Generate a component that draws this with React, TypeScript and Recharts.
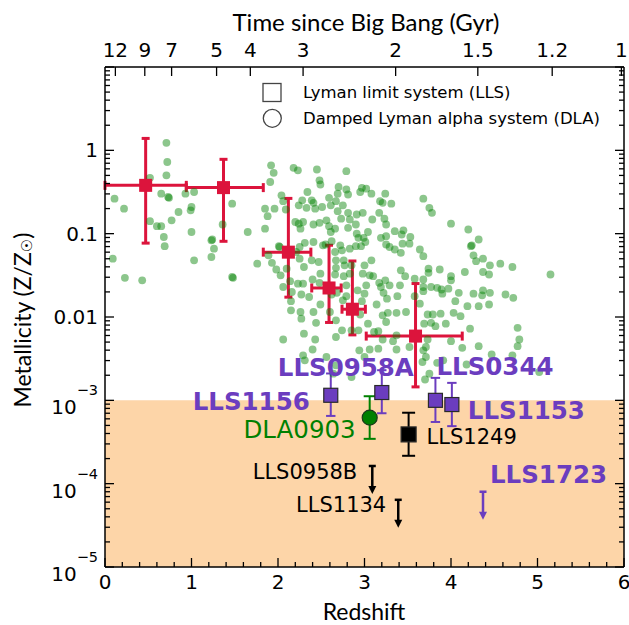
import React from 'react';
import {
  ScatterChart,
  Scatter,
  XAxis,
  YAxis,
  ErrorBar,
  ReferenceArea,
  Customized,
} from 'recharts';

// ---------------------------------------------------------------------------
// Data
// ---------------------------------------------------------------------------

// Field absorbers: [redshift, log10(Z/Zsun)]
const fieldSample: [number, number][] = [
  [0.11, -0.58], [0.22, -0.70], [0.71, 0.09], [0.72, -0.14], [0.71, -0.30], [0.52, -0.33],
  [0.65, -0.52], [0.73, -0.56], [0.74, -0.57], [0.93, -0.52], [1.03, -0.50], [1.00, -0.68],
  [0.99, -0.72], [0.85, -0.74], [0.77, -0.84], [0.52, -0.85], [0.60, -0.91], [0.65, -0.91],
  [0.68, -1.04], [0.69, -1.15], [1.00, -0.98], [1.36, -0.89], [1.47, -0.64], [1.65, -0.98],
  [1.23, -1.08], [1.24, -1.07], [1.26, -1.18], [1.23, -1.28], [1.03, -1.32], [0.09, -1.30],
  [0.23, -1.53], [0.43, -1.56], [1.47, -1.52], [1.48, -1.53], [1.76, -1.36], [1.89, -1.26],
  [1.93, -1.35], [1.98, -1.43], [1.85, -0.94], [1.85, -0.70], [1.88, -0.79], [1.96, -0.70],
  [1.91, -0.38], [1.95, -0.27], [1.92, -0.18], [2.01, -1.15], [2.02, -1.16],
  [2.18, -0.21], [2.23, -0.24], [2.45, -0.23], [2.79, -0.25], [2.48, -0.36], [2.49, -0.41],
  [2.34, -0.50], [2.70, -0.44], [2.79, -0.47], [2.69, -0.52], [2.04, -0.54], [2.06, -0.61],
  [2.39, -0.60], [2.41, -0.63], [2.59, -0.57], [2.81, -0.53], [2.97, -0.45], [3.02, -0.46],
  [2.95, -0.50], [3.08, -0.52], [3.24, -0.52], [3.18, -0.61], [3.21, -0.63], [3.31, -0.64],
  [2.09, -0.71], [2.24, -0.66], [2.28, -0.60], [2.33, -0.69], [2.43, -0.70], [2.51, -0.68],
  [2.67, -0.61], [2.61, -0.66], [2.75, -0.66], [2.69, -0.73], [2.81, -0.75], [2.91, -0.77],
  [2.98, -0.75], [3.17, -0.75], [3.23, -0.82], [3.09, -0.83], [3.25, -0.89],
  [2.20, -0.86], [2.24, -0.88], [2.29, -0.86], [2.26, -0.94], [2.41, -0.89], [2.48, -0.87],
  [2.56, -0.84], [2.59, -0.91], [2.66, -0.94], [2.61, -0.98], [2.73, -0.82], [2.83, -0.83],
  [2.81, -0.93], [2.90, -0.89], [2.91, -1.00], [2.93, -1.05], [2.99, -1.05], [3.04, -0.98],
  [3.01, -1.10], [3.19, -1.05], [3.25, -1.03], [3.35, -0.97], [3.43, -1.01], [3.25, -1.13],
  [3.29, -1.16], [3.35, -1.19], [3.42, -1.23],
  [2.52, -1.14], [2.55, -1.13], [2.62, -1.09], [2.72, -1.14], [2.66, -1.22], [2.74, -1.20],
  [2.83, -1.18], [2.90, -1.15], [2.96, -1.15], [2.41, -1.10], [2.31, -1.11], [2.25, -1.16],
  [2.21, -1.22],
  [2.03, -1.50], [2.10, -1.42], [2.25, -1.30], [2.30, -1.40], [2.39, -1.32], [2.47, -1.34],
  [2.67, -1.32], [2.67, -1.41], [2.76, -1.32], [2.77, -1.38], [2.85, -1.38], [3.00, -1.38],
  [3.08, -1.32], [2.98, -1.48], [3.06, -1.50], [3.10, -1.51], [2.83, -1.48], [2.76, -1.51],
  [2.66, -1.49], [2.49, -1.48], [2.40, -1.55], [2.48, -1.59], [2.29, -1.60], [2.23, -1.60],
  [2.14, -1.57], [2.06, -1.64],
  [2.15, -1.81], [2.16, -1.70], [2.27, -1.73], [2.36, -1.76], [2.49, -1.85], [2.62, -1.73],
  [2.68, -1.71], [2.79, -1.62], [2.79, -1.75], [2.75, -1.80], [2.92, -1.68], [3.02, -1.62],
  [3.00, -1.72], [3.19, -1.64], [3.22, -1.71], [3.29, -1.62], [3.38, -1.75], [3.26, -1.78],
  [3.17, -1.59], [3.24, -1.56], [3.77, -1.64], [3.68, -1.69],
  [3.94, -2.08], [3.48, -1.94], [3.37, -1.95], [3.27, -1.95], [3.21, -1.98], [3.14, -1.85],
  [3.16, -2.17], [3.11, -2.18], [3.33, -2.29], [3.21, -2.27], [3.25, -2.06], [3.04, -2.08],
  [2.97, -1.81], [2.95, -1.97], [2.67, -2.04], [2.60, -1.94], [2.41, -1.94], [2.44, -2.07],
  [2.27, -2.02], [2.26, -1.94], [2.15, -1.92], [2.06, -2.27], [2.30, -2.20], [2.43, -2.27],
  [2.40, -2.39], [2.67, -2.24], [2.74, -2.16], [2.85, -2.16], [2.93, -2.16], [3.37, -2.22],
  [3.37, -2.39], [3.06, -2.39], [3.16, -2.38],
  [3.68, -0.58], [3.75, -0.69], [3.78, -0.75], [4.00, -0.88], [4.20, -0.95], [4.32, -1.07],
  [4.24, -1.14], [4.23, -1.15], [4.37, -1.30], [4.29, -1.33], [4.26, -1.26], [4.45, -1.38],
  [4.57, -1.36], [4.71, -1.40], [5.15, -1.49], [4.44, -1.49], [4.37, -1.46], [4.16, -1.46],
  [4.00, -1.51], [4.00, -1.56], [3.87, -1.43], [3.74, -1.42], [3.74, -1.47], [3.68, -1.55],
  [3.64, -1.19], [3.68, -1.27], [3.53, -1.04], [3.52, -1.12], [3.45, -0.96], [3.44, -1.12],
  [3.42, -1.44], [3.47, -1.51], [3.58, -1.54], [3.41, -1.62], [3.68, -1.64], [3.84, -1.65],
  [3.89, -1.67], [3.90, -1.72], [3.97, -1.66], [4.09, -1.71], [4.26, -1.72], [4.36, -1.74],
  [4.37, -1.68], [4.45, -1.71], [4.63, -1.73], [4.72, -1.77], [4.05, -1.81], [4.19, -1.87],
  [4.32, -1.87], [4.44, -1.85], [3.88, -1.96], [3.73, -1.97], [3.79, -1.97], [4.03, -1.95],
  [4.11, -1.99], [3.58, -1.75], [3.64, -1.84], [3.69, -2.08], [3.77, -2.07], [3.82, -2.11],
  [4.22, -2.14], [4.77, -2.13], [4.79, -2.27], [4.77, -2.35], [4.13, -2.37], [4.32, -2.35],
  [4.47, -2.45], [4.71, -2.46], [3.73, -2.27], [3.71, -2.36], [3.68, -2.40], [3.71, -2.48],
  [3.67, -2.54], [3.84, -2.55], [4.18, -2.57], [4.00, -2.29],
  [2.29, -2.46], [2.31, -2.52], [2.56, -2.48], [2.67, -2.58], [2.64, -2.68], [2.85, -2.72],
  [3.00, -2.48], [2.94, -2.40], [3.52, -2.36], [3.70, -2.75], [3.91, -2.52], [3.75, -2.68],
  [5.02, -2.66],
];

// Binned medians of the field sample
const binCenter = [0.47, 1.37, 2.12, 2.59, 2.86, 3.59];
const binLowEdge = [0.0, 0.94, 1.83, 2.39, 2.74, 3.02];
const binHighEdge = [0.94, 1.83, 2.38, 2.73, 3.01, 4.13];
const binMedian = [0.38, 0.357, 0.06, 0.0223, 0.0124, 0.0059];
const binP16 = [0.077, 0.081, 0.0173, 0.0086, 0.0061, 0.00145];
const binP84 = [1.39, 0.78, 0.265, 0.0726, 0.047, 0.0252];

// Metal-poor systems with measurements
const systemNames = ['LLS1156', 'LLS0958A', 'LLS0344', 'LLS1153', 'DLA0903', 'LLS1249'];
const systemRedshift = [2.61, 3.2, 3.82, 4.01, 3.06, 3.51];
const systemMetal = [1.15e-3, 1.24e-3, 1.0e-3, 8.9e-4, 6.2e-4, 3.9e-4];
const systemLow = [6.5e-4, 7.0e-4, 5.5e-4, 4.9e-4, 3.45e-4, 2.16e-4];
const systemHigh = [2.1e-3, 2.3e-3, 1.86e-3, 1.62e-3, 1.12e-3, 7.1e-4];

// Systems with upper limits only
const limitNames = ['LLS0958B', 'LLS1134', 'LLS1723'];
const limitRedshift = [3.09, 3.39, 4.37];
const limitMetal = [1.63e-4, 6.4e-5, 8.0e-5];

// Age of the universe (Gyr) on the top axis and the redshift where each falls
const ageTickLabels = ['12', '9', '7', '5', '4', '3', '2', '1.5', '1.2', '1'];
const ageTickRedshift = [0.12, 0.46, 0.77, 1.29, 1.68, 2.29, 3.36, 4.31, 5.17, 5.97];

const redshiftMajorTicks = [0, 1, 2, 3, 4, 5, 6];
const metalDecades = [-5, -4, -3, -2, -1, 0, 1];

// ---------------------------------------------------------------------------
// Layout and style
// ---------------------------------------------------------------------------

const W = 629;
const H = 625;
const Y_AXIS_W = 105;
const RIGHT_AXIS_W = 5;
const TOP_AXIS_H = 67;
const BOTTOM_AXIS_H = 58;
const PLOT_LEFT = Y_AXIS_W;
const PLOT_RIGHT = W - RIGHT_AXIS_W;
const PLOT_TOP = TOP_AXIS_H;
const PLOT_BOTTOM = H - BOTTOM_AXIS_H;

const TICK_FONT = 'DejaVu Sans';
const TITLE_FONT = 'Lato';
const CRIMSON = '#dc143c';
const PURPLE = '#6b3dbf';
const DLA_GREEN = '#008000';
const FIELD_GREEN = '#008000';
const SHADE = '#fdd5a8';

type LabelStyle = {
  dx: number;
  dy: number;
  anchor: 'start' | 'middle' | 'end';
  size: number;
  bold: boolean;
  color: string;
};

const labelStyles: Record<string, LabelStyle> = {
  LLS1156: { dx: -21, dy: 6, anchor: 'end', size: 24.5, bold: true, color: PURPLE },
  LLS0958A: { dx: -36, dy: -25, anchor: 'middle', size: 24.5, bold: true, color: PURPLE },
  LLS0344: { dx: 1, dy: -34, anchor: 'start', size: 24.5, bold: true, color: PURPLE },
  LLS1153: { dx: 16, dy: 6, anchor: 'start', size: 24.5, bold: true, color: PURPLE },
  DLA0903: { dx: -14, dy: 12, anchor: 'end', size: 24.5, bold: false, color: DLA_GREEN },
  LLS1249: { dx: 18, dy: 3, anchor: 'start', size: 21, bold: false, color: '#000' },
  LLS0958B: { dx: -15, dy: 6, anchor: 'end', size: 21, bold: false, color: '#000' },
  LLS1134: { dx: -12, dy: 5, anchor: 'end', size: 21, bold: false, color: '#000' },
  LLS1723: { dx: 7, dy: -17, anchor: 'start', size: 24.5, bold: true, color: PURPLE },
};

// ---------------------------------------------------------------------------
// Derived tables
// ---------------------------------------------------------------------------

const fieldPoints = fieldSample.map(([z, logZ]) => ({ z, met: Math.pow(10, logZ) }));

const binPoints = binCenter.map((z, i) => ({
  z,
  met: binMedian[i],
  zErr: [z - binLowEdge[i], binHighEdge[i] - z],
  metErr: [binMedian[i] - binP16[i], binP84[i] - binMedian[i]],
}));

const systemPoints = systemNames.map((name, i) => ({
  name,
  z: systemRedshift[i],
  met: systemMetal[i],
  metErr: [systemMetal[i] - systemLow[i], systemHigh[i] - systemMetal[i]],
}));
const purpleSystems = systemPoints.filter((d) => d.name.startsWith('LLS') && d.name !== 'LLS1249');
const dlaSystems = systemPoints.filter((d) => d.name.startsWith('DLA'));
const blackSystems = systemPoints.filter((d) => d.name === 'LLS1249');

const limitPoints = limitNames.map((name, i) => ({ name, z: limitRedshift[i], met: limitMetal[i] }));
const blackLimits = limitPoints.filter((d) => d.name !== 'LLS1723');
const purpleLimits = limitPoints.filter((d) => d.name === 'LLS1723');

const redshiftTicks: number[] = [];
for (let k = 0; k <= 30; k++) redshiftTicks.push(Math.round(k * 2) / 10);

const metalTicks: number[] = [];
metalDecades.forEach((d) => {
  metalTicks.push(Math.pow(10, d));
  if (d < 1) for (let m = 2; m <= 9; m++) metalTicks.push(m * Math.pow(10, d));
});

// ---------------------------------------------------------------------------
// Axis ticks (matplotlib style, pointing inwards)
// ---------------------------------------------------------------------------

const isDecade = (v: number) => Math.abs(Math.log10(v) - Math.round(Math.log10(v))) < 1e-6;

const metalLabel = (v: number) => {
  const e = Math.round(Math.log10(v));
  if (e === 0) return <tspan>1</tspan>;
  if (e === -1) return <tspan>0.1</tspan>;
  if (e === -2) return <tspan>0.01</tspan>;
  return (
    <>
      <tspan dy={7}>10</tspan>
      <tspan dy={-17} fontSize={14.5}>{`\u2212${Math.abs(e)}`}</tspan>
    </>
  );
};

const LeftTick = (props: any) => {
  const { y, payload } = props;
  const v = payload.value as number;
  const major = isDecade(v);
  const e = Math.round(Math.log10(v));
  return (
    <g>
      <line x1={PLOT_LEFT} x2={PLOT_LEFT + (major ? 9 : 5)} y1={y} y2={y} stroke="#000" strokeWidth={1.3} />
      {major && e <= 0 && (
        <text
          x={98}
          y={y}
          textAnchor="end"
          dominantBaseline="central"
          fontSize={20}
          fontFamily={TICK_FONT}
          fill="#000"
        >
          {metalLabel(v)}
        </text>
      )}
    </g>
  );
};

const RightTick = (props: any) => {
  const { y, payload } = props;
  const major = isDecade(payload.value as number);
  return (
    <line x1={PLOT_RIGHT} x2={PLOT_RIGHT - (major ? 9 : 5)} y1={y} y2={y} stroke="#000" strokeWidth={1.3} />
  );
};

const BottomTick = (props: any) => {
  const { x, payload } = props;
  const v = payload.value as number;
  const major = redshiftMajorTicks.includes(v);
  return (
    <g>
      <line x1={x} x2={x} y1={PLOT_BOTTOM} y2={PLOT_BOTTOM - (major ? 9 : 5)} stroke="#000" strokeWidth={1.3} />
      {major && (
        <text
          x={x}
          y={PLOT_BOTTOM + 15}
          textAnchor="middle"
          dominantBaseline="central"
          fontSize={20}
          fontFamily={TICK_FONT}
          fill="#000"
        >
          {v}
        </text>
      )}
    </g>
  );
};

// label of the age tick closest to a given redshift
const ageLabelFor = (z: number) => {
  let best = 0;
  ageTickRedshift.forEach((t, i) => {
    if (Math.abs(t - z) < Math.abs(ageTickRedshift[best] - z)) best = i;
  });
  return ageTickLabels[best];
};

const TopTick = (props: any) => {
  const { x, payload } = props;
  return (
    <g>
      <line x1={x} x2={x} y1={PLOT_TOP} y2={PLOT_TOP + 9} stroke="#000" strokeWidth={1.3} />
      <text
        x={x}
        y={PLOT_TOP - 17}
        textAnchor="middle"
        dominantBaseline="central"
        fontSize={20}
        fontFamily={TICK_FONT}
        fill="#000"
      >
        {ageLabelFor(payload.value as number)}
      </text>
    </g>
  );
};

// ---------------------------------------------------------------------------
// Marker shapes
// ---------------------------------------------------------------------------

const SystemLabel = ({ cx, cy, name }: { cx: number; cy: number; name: string }) => {
  const s = labelStyles[name];
  if (!s) return null;
  return (
    <text
      x={cx + s.dx}
      y={cy + s.dy}
      textAnchor={s.anchor}
      dominantBaseline="central"
      fontSize={s.size}
      fontWeight={s.bold ? 'bold' : 'normal'}
      fontFamily={TICK_FONT}
      fill={s.color}
    >
      {name}
    </text>
  );
};

const FieldDot = (props: any) => (
  <circle cx={props.cx} cy={props.cy} r={3.9} fill={FIELD_GREEN} fillOpacity={0.45} />
);

const BinSquare = (props: any) => (
  <rect x={props.cx - 6.5} y={props.cy - 6.5} width={13} height={13} fill={CRIMSON} />
);

const makeSquare = (fill: string, size: number) => (props: any) => (
  <g>
    <rect
      x={props.cx - size / 2}
      y={props.cy - size / 2}
      width={size}
      height={size}
      fill={fill}
      stroke="#2a2a2a"
      strokeWidth={1.2}
    />
    <SystemLabel cx={props.cx} cy={props.cy} name={props.payload?.name} />
  </g>
);

const DlaCircle = (props: any) => (
  <g>
    <circle cx={props.cx} cy={props.cy} r={7.5} fill={DLA_GREEN} stroke="#1c3a1c" strokeWidth={1.2} />
    <SystemLabel cx={props.cx} cy={props.cy} name={props.payload?.name} />
  </g>
);

const makeLimit = (color: string) => (props: any) => {
  const { cx, cy } = props;
  return (
    <g>
      <line x1={cx - 3.5} x2={cx + 3.5} y1={cy} y2={cy} stroke={color} strokeWidth={2.5} />
      <line x1={cx} x2={cx} y1={cy} y2={cy + 21} stroke={color} strokeWidth={2.5} />
      <polygon points={`${cx - 4},${cy + 20} ${cx + 4},${cy + 20} ${cx},${cy + 28}`} fill={color} />
      <SystemLabel cx={cx} cy={cy} name={props.payload?.name} />
    </g>
  );
};

// ---------------------------------------------------------------------------
// Titles and legend
// ---------------------------------------------------------------------------

const Annotations = () => (
  <g>
    <text x={366} y={21} textAnchor="middle" dominantBaseline="central" fontSize={24} fontFamily={TITLE_FONT} fill="#000">
      Time since Big Bang (Gyr)
    </text>
    <text x={364} y={611} textAnchor="middle" dominantBaseline="central" fontSize={23} fontFamily={TITLE_FONT} fill="#000">
      Redshift
    </text>
    <text
      x={22}
      y={320}
      transform="rotate(-90, 22, 320)"
      textAnchor="middle"
      dominantBaseline="central"
      fontSize={23}
      fontFamily={TITLE_FONT}
      fill="#000"
    >
      {'Metallicity (Z/Z'}
      <tspan fontSize={15} dy={5} fontFamily="DejaVu Sans">{'\u2609'}</tspan>
      <tspan dy={-5}>)</tspan>
    </text>

    <rect x={263} y={83.5} width={18} height={18} fill="none" stroke="#444" strokeWidth={1.3} />
    <text x={303} y={92.5} dominantBaseline="central" fontSize={16.5} fontFamily={TICK_FONT} fill="#000">
      Lyman limit system (LLS)
    </text>
    <circle cx={272.3} cy={118.3} r={9} fill="none" stroke="#444" strokeWidth={1.3} />
    <text x={303} y={118} dominantBaseline="central" fontSize={16.5} fontFamily={TICK_FONT} fill="#000">
      Damped Lyman alpha system (DLA)
    </text>
  </g>
);

// ---------------------------------------------------------------------------
// Chart
// ---------------------------------------------------------------------------

export default function App() {
  return (
    <div style={{ position: 'absolute', left: 0, top: 0, width: W, height: H, background: '#fff' }}>
      <ScatterChart width={W} height={H} margin={{ top: 0, right: 0, bottom: 0, left: 0 }}>
        <XAxis
          xAxisId="bottom"
          dataKey="z"
          type="number"
          domain={[0, 6]}
          allowDataOverflow
          orientation="bottom"
          height={BOTTOM_AXIS_H}
          ticks={redshiftTicks}
          interval={0}
          tick={BottomTick}
          tickLine={false}
          axisLine={{ stroke: '#000', strokeWidth: 1.5 }}
        />
        <XAxis
          xAxisId="top"
          dataKey="z"
          type="number"
          domain={[0, 6]}
          allowDataOverflow
          orientation="top"
          height={TOP_AXIS_H}
          ticks={ageTickRedshift}
          interval={0}
          tick={TopTick}
          tickLine={false}
          axisLine={{ stroke: '#000', strokeWidth: 1.5 }}
        />
        <YAxis
          yAxisId="left"
          dataKey="met"
          type="number"
          scale="log"
          domain={[1e-5, 10]}
          allowDataOverflow
          orientation="left"
          width={Y_AXIS_W}
          ticks={metalTicks}
          interval={0}
          tick={LeftTick}
          tickLine={false}
          axisLine={{ stroke: '#000', strokeWidth: 1.5 }}
        />
        <YAxis
          yAxisId="right"
          dataKey="met"
          type="number"
          scale="log"
          domain={[1e-5, 10]}
          allowDataOverflow
          orientation="right"
          width={RIGHT_AXIS_W}
          ticks={metalTicks}
          interval={0}
          tick={RightTick}
          tickLine={false}
          axisLine={{ stroke: '#000', strokeWidth: 1.5 }}
        />

        <ReferenceArea
          xAxisId="bottom"
          yAxisId="left"
          x1={0}
          x2={6}
          y1={1e-5}
          y2={1e-3}
          fill={SHADE}
          fillOpacity={1}
          stroke="none"
        />

        <Scatter
          data={fieldPoints}
          xAxisId="bottom"
          yAxisId="left"
          shape={FieldDot}
          isAnimationActive={false}
        />

        <Scatter data={binPoints} xAxisId="bottom" yAxisId="left" shape={BinSquare} isAnimationActive={false}>
          <ErrorBar dataKey="zErr" direction="x" stroke={CRIMSON} strokeWidth={3} width={4.5} isAnimationActive={false} />
          <ErrorBar dataKey="metErr" direction="y" stroke={CRIMSON} strokeWidth={3} width={4} isAnimationActive={false} />
        </Scatter>

        <Scatter
          data={purpleSystems}
          xAxisId="bottom"
          yAxisId="left"
          shape={makeSquare(PURPLE, 14)}
          isAnimationActive={false}
        >
          <ErrorBar dataKey="metErr" direction="y" stroke={PURPLE} strokeWidth={2} width={4.7} isAnimationActive={false} />
        </Scatter>

        <Scatter data={dlaSystems} xAxisId="bottom" yAxisId="left" shape={DlaCircle} isAnimationActive={false}>
          <ErrorBar dataKey="metErr" direction="y" stroke={DLA_GREEN} strokeWidth={2} width={6} isAnimationActive={false} />
        </Scatter>

        <Scatter
          data={blackSystems}
          xAxisId="bottom"
          yAxisId="left"
          shape={makeSquare('#000', 15)}
          isAnimationActive={false}
        >
          <ErrorBar dataKey="metErr" direction="y" stroke="#000" strokeWidth={2} width={6.5} isAnimationActive={false} />
        </Scatter>

        <Scatter
          data={blackLimits}
          xAxisId="bottom"
          yAxisId="left"
          shape={makeLimit('#000')}
          isAnimationActive={false}
        />
        <Scatter
          data={purpleLimits}
          xAxisId="bottom"
          yAxisId="left"
          shape={makeLimit(PURPLE)}
          isAnimationActive={false}
        />

        <Customized component={<Annotations />} />
      </ScatterChart>
    </div>
  );
}
